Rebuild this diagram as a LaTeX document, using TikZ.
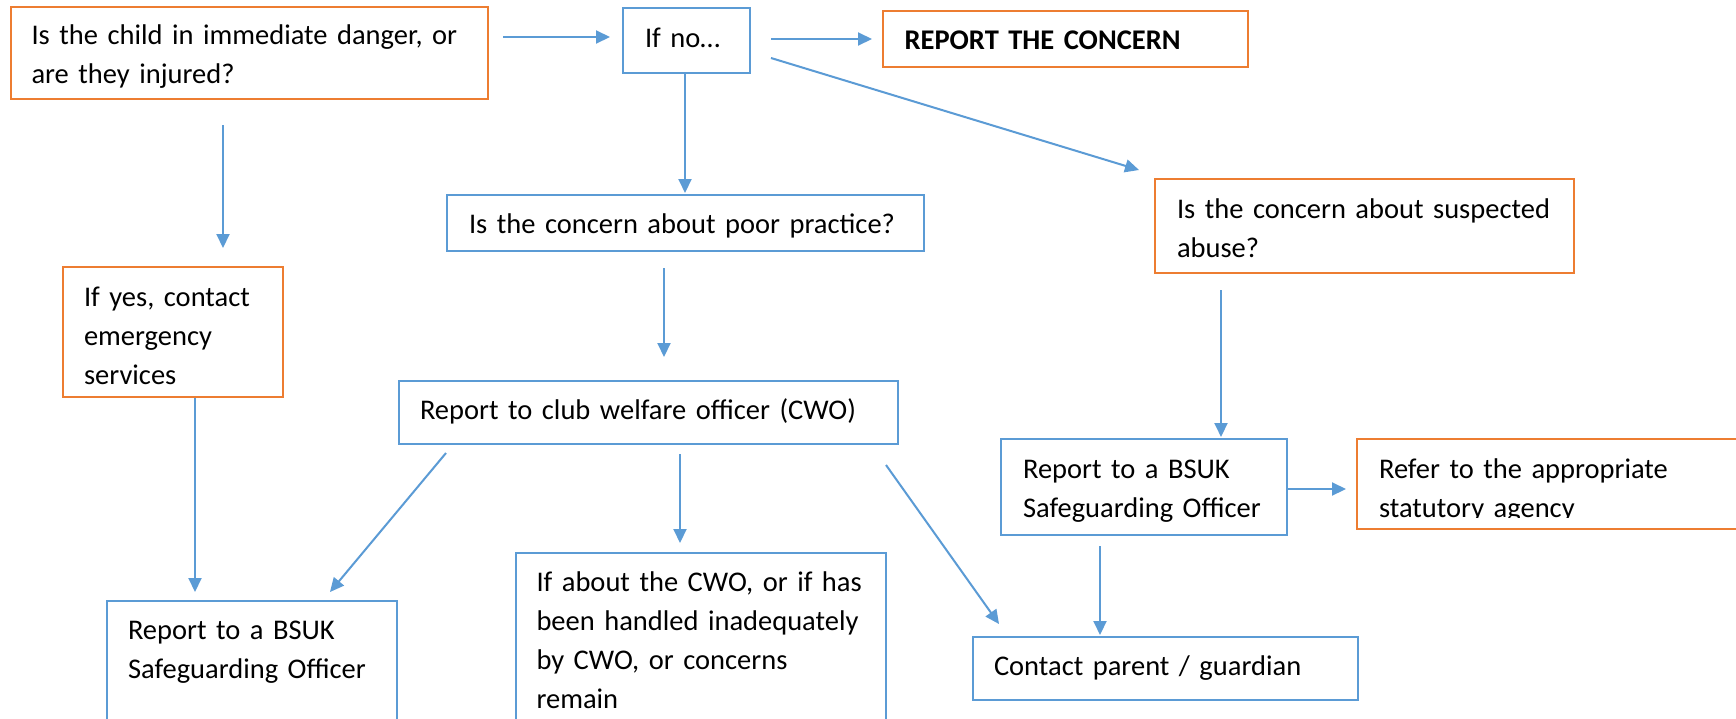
\documentclass[tikz,border=0pt]{standalone}
\usepackage{fontspec}
\setmainfont{Carlito}
\usetikzlibrary{arrows.meta}
\definecolor{cblue}{HTML}{5B9BD5}
\definecolor{corange}{HTML}{ED7D31}
\begin{document}
\begin{tikzpicture}[x=1pt,y=-1pt,
  fbox/.style n args={4}{anchor=north west, inner ysep=0pt, inner xsep=#1,
     text width=#2, text height=#3, text depth=#4, align=left,
     line width=2pt, font=\fontsize{28.5}{39}\selectfont},
  bbox/.style={draw=cblue},
  obox/.style={draw=corange},
  arr/.style={draw=cblue, line width=2pt, -{Triangle[length=14pt,width=13pt]}}
]
\clip (0,0) rectangle (1736,718);
\fill[white] (0,0) rectangle (1736,718);

\node[fbox={20.5pt}{436pt}{37pt}{55pt}, obox] (b1) at (10,6)
  {\mbox{Is the child in immediate danger, or}\\\mbox{are they injured?}};
\node[fbox={22pt}{83pt}{39.7pt}{25.3pt}, bbox] (ifno) at (622,7) {\mbox{If no…}};
\node[fbox={21.6pt}{321.8pt}{38pt}{18pt}, obox] (rep) at (882,10) {\mbox{\bfseries REPORT THE CONCERN}};
\node[fbox={22pt}{433pt}{38pt}{18pt}, bbox] (poor) at (446,194) {\mbox{Is the concern about poor practice?}};
\node[fbox={22pt}{375pt}{39pt}{55pt}, obox] (abuse) at (1154,178)
  {\mbox{Is the concern about suspected}\\\mbox{abuse?}};
\node[fbox={21pt}{178pt}{39pt}{91pt}, obox] (emerg) at (62,266)
  {\mbox{If yes, contact}\\\mbox{emergency}\\\mbox{services}};
\node[fbox={21pt}{457pt}{38pt}{25pt}, bbox] (cwo) at (398,380) {\mbox{Report to club welfare officer (CWO)}};
\node[fbox={21pt}{248pt}{38pt}{102pt}, bbox] (bsukL) at (106,600)
  {\mbox{Report to a BSUK}\\\mbox{Safeguarding Officer}};
\node[fbox={20.5pt}{329pt}{38pt}{150pt}, bbox] (cwoc) at (515,552)
  {\mbox{If about the CWO, or if has}\\\mbox{been handled inadequately}\\\mbox{by CWO, or concerns}\\\mbox{remain}};
\node[fbox={22pt}{242pt}{39pt}{57pt}, bbox] (bsukR) at (1000,438)
  {\mbox{Report to a BSUK}\\\mbox{Safeguarding Officer}};
\begin{scope}
  \clip (0,0) rectangle (1736,517) (0,517) rectangle (1362,718) (1362,524) rectangle (1736,718);
  \node[fbox={22pt}{360pt}{39pt}{51pt}, obox] (refer) at (1356,438)
    {\mbox{Refer to the appropriate}\\\mbox{statutory agency}};
\end{scope}
\node[fbox={21pt}{343pt}{38pt}{25pt}, bbox] (contact) at (972,636) {\mbox{Contact parent / guardian}};

\draw[arr] ([xshift=14pt,yshift=16pt]b1.east) -- ([xshift=-12pt,yshift=3.5pt]ifno.west);
\draw[arr] ([xshift=20pt,yshift=1.5pt]ifno.east) -- ([xshift=-10pt]rep.west);
\draw[arr] ([xshift=20pt,yshift=-17.5pt]ifno.east) -- ([xshift=-15pt,yshift=8pt]abuse.north west);
\draw[arr] ([xshift=-1.5pt]ifno.south) -- ([xshift=-0.5pt,yshift=1pt]poor.north);
\draw[arr] ([xshift=-26.5pt,yshift=-25pt]b1.south) -- ([xshift=50pt,yshift=18pt]emerg.north);
\draw[arr] ([xshift=-21.5pt,yshift=-16pt]poor.south) -- ([xshift=15.5pt,yshift=23pt]cwo.north);
\draw[arr] ([xshift=-143.5pt,yshift=-16pt]abuse.south) -- ([xshift=77pt,yshift=1pt]bsukR.north);
\draw[arr] ([xshift=22pt]emerg.south) -- ([xshift=-57pt,yshift=8pt]bsukL.north);
\draw[arr] ([xshift=48pt,yshift=-8pt]cwo.south west) -- ([xshift=-68pt,yshift=8pt]bsukL.north east);
\draw[arr] ([xshift=31.5pt,yshift=-9pt]cwo.south) -- ([xshift=-21pt,yshift=9pt]cwoc.north);
\draw[arr] ([xshift=-13pt,yshift=-20pt]cwo.south east) -- ([xshift=27pt,yshift=12pt]contact.north west);
\draw[arr] ([yshift=-2pt]bsukR.east) -- ([xshift=-10pt,yshift=-5pt]refer.west);
\draw[arr] ([xshift=-44pt,yshift=-10pt]bsukR.south) -- ([xshift=-65.5pt,yshift=1pt]contact.north);
\end{tikzpicture}
\end{document}
